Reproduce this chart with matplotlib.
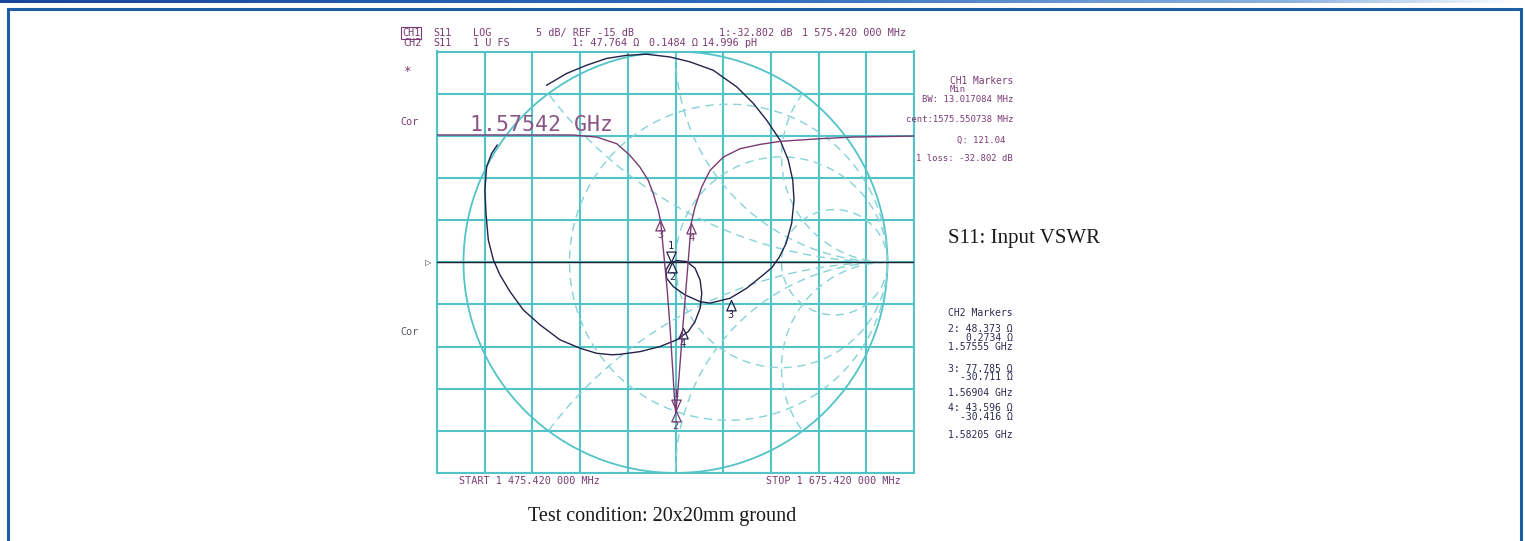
import numpy as np
import matplotlib
matplotlib.use("Agg")
import matplotlib.pyplot as plt
from matplotlib.patches import Circle, Rectangle
from matplotlib.colors import LinearSegmentedColormap

W, H = 1525, 541

# CH1: S11 log magnitude (dB) against frequency (MHz)
f_start, f_stop = 1475.42, 1675.42
db_ref, db_div = -15, 5
ch1_freq = [1475.42, 1500.0, 1532.1, 1542.4, 1550.8, 1556.3, 1560.5, 1564.0, 1566.1, 1568.2,
            1569.2, 1570.5, 1572.0, 1573.2, 1574.2, 1575.0, 1575.5, 1576.2, 1577.2, 1578.4,
            1579.7, 1581.0, 1582.05, 1583.6, 1586.4, 1589.9, 1595.5, 1602.5, 1610.9, 1619.3,
            1636.1, 1649.9, 1675.42]
ch1_db = [0.1, 0.1, 0.1, -0.15, -0.94, -2.32, -3.71, -5.28, -6.86, -8.84,
          -10.2, -14.0, -18.5, -23.0, -27.5, -31.2, -32.8, -31.0, -27.5, -23.0,
          -18.5, -14.0, -10.3, -8.45, -6.08, -4.1, -2.52, -1.53, -1.02, -0.66,
          -0.34, -0.15, -0.03]

# CH2: S11 on the Smith chart (reflection coefficient, real / imag)
ch2_re = [-0.608, -0.513, -0.419, -0.325, -0.230, -0.136, -0.026, 0.068, 0.178, 0.289,
          0.367, 0.430, 0.493, 0.532, 0.553, 0.559, 0.548, 0.522, 0.490, 0.455,
          0.414, 0.336, 0.257, 0.163, 0.116, 0.045, -0.010, -0.042, -0.045, -0.026,
          0.006, 0.053, 0.092, 0.116, 0.124, 0.116, 0.092, 0.060, 0.006, -0.073,
          -0.167, -0.262, -0.300, -0.372, -0.450, -0.545, -0.639, -0.718, -0.781, -0.828,
          -0.859, -0.883, -0.894, -0.899, -0.891, -0.867, -0.841]
ch2_im = [0.840, 0.896, 0.935, 0.967, 0.982, 0.987, 0.974, 0.951, 0.911, 0.832,
          0.754, 0.674, 0.580, 0.485, 0.390, 0.295, 0.185, 0.090, 0.025, -0.025,
          -0.060, -0.123, -0.171, -0.194, -0.187, -0.155, -0.116, -0.076, -0.036, -0.005,
          0.008, 0.003, -0.028, -0.084, -0.147, -0.218, -0.282, -0.329, -0.368, -0.400,
          -0.424, -0.437, -0.439, -0.432, -0.408, -0.368, -0.297, -0.226, -0.139, -0.060,
          0.011, 0.106, 0.232, 0.343, 0.453, 0.517, 0.556]

# markers: frequency (MHz) and impedance R + jX (ohm)
mk_names = ["1", "2", "3", "4"]
mk_freq = [1575.42, 1575.55, 1569.04, 1582.05]
mk_r = [47.764, 48.373, 77.785, 43.596]
mk_x = [0.1484, 0.2734, -30.711, -30.416]
z0 = 50.0

# Smith chart grid
r_circles = [1 / 3, 1, 3]
x_arcs = [0.5, 1, 2]

purple = "#7a3b74"
navy = "#22224a"
grid_c = "#52c3c6"
dash_c = "#86d3d6"
mono = "DejaVu Sans Mono"

fig = plt.figure(figsize=(W / 100, H / 100), dpi=100)

# page decoration: gradient bar and blue frame
bar = fig.add_axes([0, 1 - 3 / H, 1, 3 / H])
cmap = LinearSegmentedColormap.from_list(
    "bar", [(0, "#17479c"), (0.5, "#2f6cbc"), (0.85, "#8fb3e0"), (1, "#ffffff")])
bar.imshow(np.linspace(0, 1, 256)[None, :], aspect="auto", cmap=cmap)
bar.axis("off")
fig.patches.append(Rectangle((7.5 / W, -0.05), (1521 - 7.5) / W, 1.05 - 8.7 / H,
                             transform=fig.transFigure, fill=False,
                             ec="#1f5ca8", lw=2.2))

pos = [437 / W, 1 - 473 / H, 477 / W, 421.5 / H]

# grid (CH1 scale)
ax1 = fig.add_axes(pos)
ax1.set_xlim(f_start, f_stop)
ax1.set_ylim(db_ref - 5 * db_div, db_ref + 5 * db_div)
ax1.set_xticks(np.linspace(f_start, f_stop, 11))
ax1.set_yticks(np.arange(db_ref - 5 * db_div, db_ref + 5 * db_div + 1, db_div))
ax1.grid(True, color=grid_c, lw=1.5)
ax1.tick_params(length=0, labelbottom=False, labelleft=False)
for s in ax1.spines.values():
    s.set_color(grid_c)
    s.set_linewidth(1.5)

# Smith chart
ax2 = fig.add_axes(pos)
ax2.set_xlim(-1.125, 1.125)
ax2.set_ylim(-1, 1)
ax2.axis("off")
unit = Circle((0, 0), 1, transform=ax2.transData)
th = np.linspace(0, 2 * np.pi, 600)
for r in r_circles:
    c, rad = r / (1 + r), 1 / (1 + r)
    ax2.plot(c + rad * np.cos(th), rad * np.sin(th), ls=(0, (6, 4)), color=dash_c, lw=1.0)
for xv in x_arcs:
    for sgn in (1, -1):
        ln, = ax2.plot(1 + np.cos(th) / xv, sgn / xv + np.sin(th) / xv,
                       ls=(0, (6, 4)), color=dash_c, lw=1.0)
        ln.set_clip_path(unit)
ax2.add_patch(Circle((0, 0), 1, fill=False, ec=grid_c, lw=1.3))
ax2.axhline(0, color="#202030", lw=1.0)
ax2.text(-0.012, 0.5, "\u25b7", transform=ax2.transAxes, ha="right", va="center",
         fontsize=6, color="#333344")
ax2.plot(ch2_re, ch2_im, color=navy, lw=1.0, zorder=5)

# CH1 trace on top
ax3 = fig.add_axes(pos)
ax3.set_xlim(ax1.get_xlim())
ax3.set_ylim(ax1.get_ylim())
ax3.axis("off")
ax3.plot(ch1_freq, ch1_db, color=purple, lw=1.0)

TRI_UP = [(0, 0), (-0.45, -1), (0.45, -1), (0, 0)]
TRI_DN = [(0, 0), (-0.45, 1), (0.45, 1), (0, 0)]


def put_markers(ax, xs, ys, color):
    for i, (x, y) in enumerate(zip(xs, ys)):
        active = i == 0
        ax.plot(x, y, marker=TRI_DN if active else TRI_UP, ms=15, mfc="none",
                mec=color, mew=0.9, zorder=6)
        ax.annotate(mk_names[i], (x, y), xytext=(0, 11.5 if active else -11),
                    textcoords="offset points", ha="center", va="center",
                    family=mono, fontsize=7.5, color=color, zorder=7)


mk_db = np.interp(mk_freq, ch1_freq, ch1_db)
put_markers(ax3, mk_freq, mk_db, purple)
zz = (np.array(mk_r) + 1j * np.array(mk_x)) / z0
gam = (zz - 1) / (zz + 1)
put_markers(ax2, gam.real, gam.imag, navy)


def label(x, y, s, **kw):
    kw.setdefault("family", mono)
    kw.setdefault("fontsize", 7.3)
    kw.setdefault("va", "center")
    kw.setdefault("color", purple)
    fig.text(x / W, 1 - y / H, s, **kw)


# header
label(402, 33, "CH1", bbox=dict(boxstyle="square,pad=0.1", fc="none", ec=purple, lw=0.8))
label(433, 33, "S11")
label(473, 33, "LOG")
label(536, 33, "5 dB/ REF -15 dB")
label(719, 33, "1:-32.802 dB")
label(802, 33, "1 575.420 000 MHz")
label(403, 43, "CH2")
label(433, 43, "S11")
label(473, 43, "1 U FS")
label(572, 43, "1: 47.764 \u03a9")
label(649, 43, "0.1484 \u03a9")
label(702, 43, "14.996 pH")

label(403, 71, "*", fontsize=9)
label(400, 122, "Cor")
label(400, 332, "Cor", color="#555566")
label(470, 125, "1.57542 GHz", fontsize=15.5, color="#8a5585")

# CH1 marker panel
rp = 1013
label(rp, 81, "CH1 Markers", ha="right", fontsize=6.9)
label(950, 89.5, "Min", fontsize=6.4)
label(rp, 100, "BW: 13.017084 MHz", ha="right", fontsize=6.4)
label(rp, 120, "cent:1575.550738 MHz", ha="right", fontsize=6.4)
label(rp - 8, 140, "Q: 121.04", ha="right", fontsize=6.4)
label(rp, 159, "1 loss: -32.802 dB", ha="right", fontsize=6.4)

# CH2 marker panel
ch2_lines = [(313, "CH2 Markers"), (329, "2: 48.373 \u03a9"), (338, "0.2734 \u03a9"),
             (347, "1.57555 GHz"), (369, "3: 77.785 \u03a9"), (377, "-30.711 \u03a9"),
             (393, "1.56904 GHz"), (408, "4: 43.596 \u03a9"), (417, "-30.416 \u03a9"),
             (435, "1.58205 GHz")]
for yy, s in ch2_lines:
    label(rp, yy, s, ha="right", fontsize=7.0, color="#2b2b4f")

label(459, 481, "START 1 475.420 000 MHz")
label(766, 481, "STOP 1 675.420 000 MHz")

# figure captions
fig.text(948 / W, 1 - 238 / H, "S11: Input VSWR", family="Liberation Serif",
         fontsize=15, va="center", color="#1a1a1a")
fig.text(662 / W, 1 - 517 / H, "Test condition: 20x20mm ground", family="Liberation Serif",
         fontsize=14.5, va="center", ha="center", color="#1a1a1a")

fig.savefig("out.png", dpi=100)
